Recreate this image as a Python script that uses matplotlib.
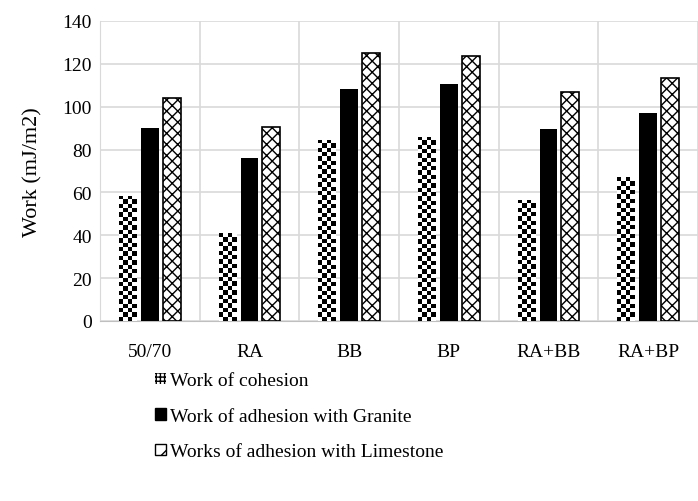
import numpy as np
import matplotlib
matplotlib.use('Agg')
import matplotlib.pyplot as plt
import matplotlib.transforms as mtransforms
from matplotlib.patches import Patch

plt.rcParams['font.family'] = ['Liberation Serif', 'DejaVu Serif']
plt.rcParams['hatch.linewidth'] = 1.0

categories = ['50/70', 'RA', 'BB', 'BP', 'RA+BB', 'RA+BP']
cohesion = [58.5, 41, 84.5, 86, 56.5, 67]
adhesion_granite = [90, 76, 108.5, 110.5, 89.5, 97]
adhesion_limestone = [104, 90.5, 125, 123.5, 107, 113.5]
series_labels = ['Work of cohesion', 'Work of adhesion with Granite',
                 'Works of adhesion with Limestone']

fig = plt.figure(figsize=(6.98, 5.02), dpi=100)
ax = fig.add_axes([100 / 698, 1 - 322 / 502, 1 - 100 / 698, 300 / 502])

x = np.arange(len(categories))
w = 0.18
ax.set_xlim(-0.5, 5.5)
ax.set_ylim(0, 140)

# checkerboard bars: draw outline then fill with a clipped checker image
fig.canvas.draw()
px_per_unit = ax.transData.transform((0, 1))[1] - ax.transData.transform((0, 0))[1]
bars1 = ax.bar(x - 0.22, cohesion, w, facecolor='white', edgecolor='none', zorder=3)
for b, v in zip(bars1, cohesion):
    ncol = 4
    nrow = max(1, int(round(v * px_per_unit / 4.3)))
    checker = (np.add.outer(np.arange(nrow), np.arange(ncol)) % 2).astype(float)
    im = ax.imshow(checker, cmap='gray', interpolation='nearest', aspect='auto',
                   extent=(b.get_x(), b.get_x() + b.get_width(), 0, v), zorder=3)
    im.set_clip_path(b)

ax.bar(x, adhesion_granite, w, color='black', zorder=3)
ax.bar(x + 0.22, adhesion_limestone, w, facecolor='white', edgecolor='black',
       hatch='xxx', linewidth=1.2, zorder=3)

ax.set_yticks(np.arange(0, 141, 20))
ax.set_xticks(x)
ax.set_xticklabels(categories)
offset = mtransforms.ScaledTranslation(-9 / 100, 0, fig.dpi_scale_trans)
for lab in ax.get_xticklabels():
    lab.set_transform(lab.get_transform() + offset)
ax.set_xticks(np.arange(-0.5, 6, 1), minor=True)
ax.tick_params(axis='both', which='both', length=0, labelsize=14, pad=6)
ax.tick_params(axis='x', pad=16)
ax.grid(axis='y', color='#d9d9d9', linewidth=1.2, zorder=0)
ax.grid(axis='x', which='minor', color='#d9d9d9', linewidth=1.2, zorder=0)
ax.set_axisbelow(True)
for s in ['top', 'right']:
    ax.spines[s].set_visible(False)
ax.spines['left'].set_color('#d9d9d9')
ax.spines['bottom'].set_color('#bfbfbf')
ax.set_ylabel('Work (mJ/m2)', fontsize=16, labelpad=14)

handles = [Patch(facecolor='white', edgecolor='black', hatch='++++', linewidth=0),
           Patch(facecolor='black', edgecolor='black'),
           Patch(facecolor='white', edgecolor='black', hatch='//')]
fig.legend(handles, series_labels, loc='upper left', bbox_to_anchor=(0.197, 0.291),
           frameon=False, fontsize=14, handlelength=0.55, handleheight=0.55,
           handletextpad=0.2, labelspacing=0.95)

fig.savefig('out.png', dpi=100)
